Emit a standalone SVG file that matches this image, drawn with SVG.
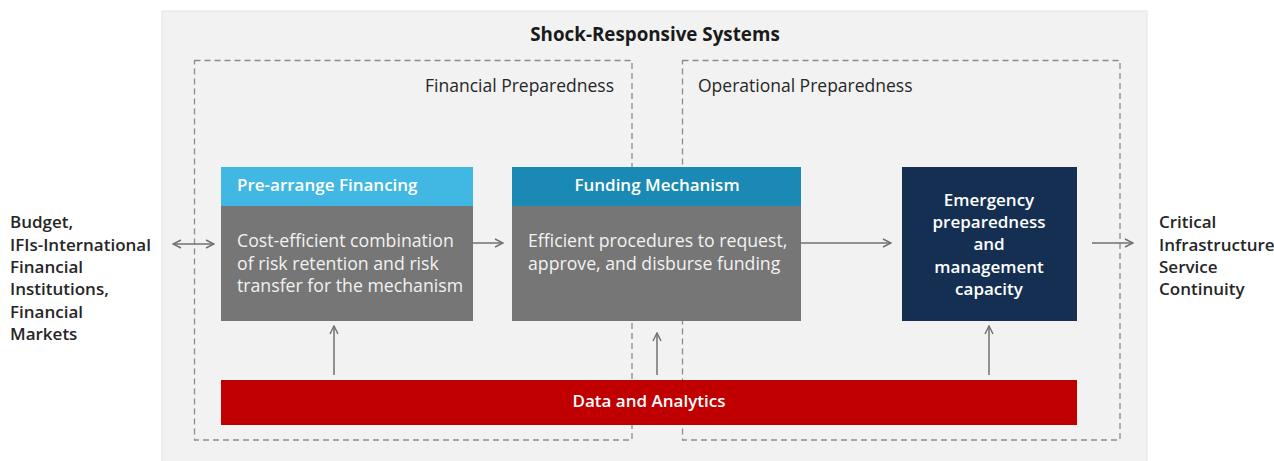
<svg xmlns="http://www.w3.org/2000/svg" width="1274" height="461" viewBox="0 0 1274 461">
<defs>
<marker id="ah" viewBox="0 0 10 10" refX="9" refY="5" markerWidth="10" markerHeight="10" markerUnits="userSpaceOnUse" orient="auto-start-reverse">
<path d="M1,1 L9,5 L1,9" fill="none" stroke="#707070" stroke-width="1.4"/>
</marker>
<style>
text{font-family:"Open Sans","Noto Sans","DejaVu Sans",sans-serif;}
.dash{fill:none;stroke:#8c8c8c;stroke-width:1.3;stroke-dasharray:6 4;}
.lbl{font-size:17.5px;fill:#262626;}
.side{font-size:17px;fill:#262626;font-weight:600;}
.hdr{font-size:17px;fill:#ffffff;font-weight:600;}
.emg{font-size:17px;fill:#ffffff;font-weight:600;}
.body{font-size:17.7px;fill:#f2f2f2;}
.conn{stroke:#707070;stroke-width:1.5;fill:none;marker-end:url(#ah);}
</style>
</defs>
<rect x="0" y="0" width="1274" height="461" fill="#ffffff"/>
<g id="panel">
<rect x="162" y="11" width="985" height="452" fill="#f2f2f2" stroke="#e2e2e2" stroke-width="1"/>
<text x="655" y="41" text-anchor="middle" font-size="18.8" font-weight="700" fill="#1a1a1a">Shock-Responsive Systems</text>
</g>
<g id="financial-preparedness">
<rect class="dash" x="194.5" y="60.5" width="437.5" height="379.5"/>
<text class="lbl" x="614" y="92" text-anchor="end">Financial Preparedness</text>
</g>
<g id="operational-preparedness">
<rect class="dash" x="682.5" y="60.5" width="437.5" height="379.5"/>
<text class="lbl" x="698" y="92">Operational Preparedness</text>
</g>
<g id="source">
<text class="side" x="10"><tspan x="10" y="228">Budget,</tspan><tspan x="10" y="251">IFIs-International</tspan><tspan x="10" y="273">Financial</tspan><tspan x="10" y="295">Institutions,</tspan><tspan x="10" y="318">Financial</tspan><tspan x="10" y="340">Markets</tspan></text>
</g>
<g id="pre-arrange-financing">
<rect x="221" y="167" width="252" height="39" fill="#41b8e3"/>
<rect x="221" y="206" width="252" height="115" fill="#767676"/>
<text class="hdr" x="237" y="191">Pre-arrange Financing</text>
<text class="body"><tspan x="237" y="247">Cost-efficient combination</tspan><tspan x="237" y="270">of risk retention and risk</tspan><tspan x="237" y="292">transfer for the mechanism</tspan></text>
</g>
<g id="funding-mechanism">
<rect x="512" y="167" width="289" height="39" fill="#1a8ab4"/>
<rect x="512" y="206" width="289" height="115" fill="#767676"/>
<text class="hdr" x="657" y="191" text-anchor="middle">Funding Mechanism</text>
<text class="body"><tspan x="528" y="247">Efficient procedures to request,</tspan><tspan x="528" y="270">approve, and disburse funding</tspan></text>
</g>
<g id="emergency-preparedness">
<rect x="902" y="167" width="175" height="154" fill="#142f52"/>
<text class="emg" text-anchor="middle"><tspan x="989" y="206">Emergency</tspan><tspan x="989" y="228">preparedness</tspan><tspan x="989" y="250">and</tspan><tspan x="989" y="273">management</tspan><tspan x="989" y="295">capacity</tspan></text>
</g>
<g id="data-analytics">
<rect x="221" y="380" width="856" height="45" fill="#c00000"/>
<text class="emg" x="649" y="407" text-anchor="middle" font-size="17.4">Data and Analytics</text>
</g>
<g id="outcome">
<text class="side"><tspan x="1159" y="228">Critical</tspan><tspan x="1159" y="251">Infrastructure</tspan><tspan x="1159" y="273">Service</tspan><tspan x="1159" y="295">Continuity</tspan></text>
</g>
<g id="connectors">
<line class="conn" x1="173" y1="244" x2="214" y2="244" marker-start="url(#ah)"/>
<line class="conn" x1="473" y1="243" x2="503" y2="243"/>
<line class="conn" x1="801" y1="243" x2="891" y2="243"/>
<line class="conn" x1="1092" y1="243" x2="1133" y2="243"/>
<line class="conn" x1="334" y1="375" x2="334" y2="326"/>
<line class="conn" x1="657" y1="375" x2="657" y2="333"/>
<line class="conn" x1="989" y1="375" x2="989" y2="326"/>
</g>
</svg>
